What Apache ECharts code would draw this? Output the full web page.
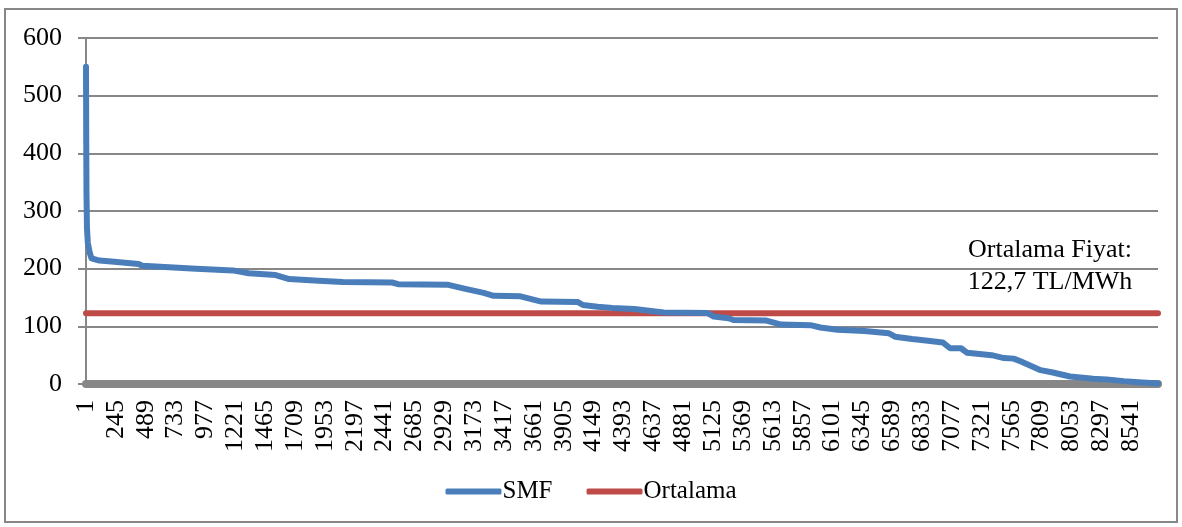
<!DOCTYPE html>
<html>
<head>
<meta charset="utf-8">
<script src="https://cdn.jsdelivr.net/npm/echarts@6/dist/echarts.min.js"></script>
<style>
  html, body { margin: 0; padding: 0; background: #fff; }
  #chart { width: 1182px; height: 527px; }
</style>
</head>
<body>
<div id="chart"></div>
<script>
// saat sayisi (1..8760)
var hourCount = 8760;
// SMF sirali egri: okunan noktalar (saat indeksi, TL/MWh)
var smfHours = [0, 2, 4, 8, 15, 30, 45, 110, 230, 430, 460, 470, 900, 1200, 1330, 1550, 1660, 1900, 2100, 2500, 2550, 2960, 3100, 3250, 3330, 3550, 3720, 4020, 4060, 4180, 4300, 4480, 4720, 5080, 5130, 5250, 5290, 5560, 5680, 5920, 6000, 6140, 6360, 6560, 6610, 6750, 6880, 7000, 7060, 7150, 7200, 7400, 7500, 7580, 7640, 7800, 7900, 8040, 8230, 8340, 8480, 8600, 8759];
var smfValues = [550, 420, 330, 270, 245, 228, 218, 214, 212, 208, 205, 202, 200, 197, 192, 189, 182, 179, 177, 176, 173, 172, 165, 158, 153, 152, 143, 142, 137, 134, 132, 130, 124, 123, 117, 114, 111, 110, 103, 102, 98, 94, 92, 88, 82, 78, 75, 72, 62, 62, 54, 50, 45, 44, 39, 24, 20, 13, 9, 8, 5, 3, 1];
var ortalama = 122.7;
var yTicks = [0, 100, 200, 300, 400, 500, 600];

var categories = [];
for (var i = 1; i <= hourCount; i++) categories.push(String(i));

var smfData = smfHours.map(function (h, i) { return [h, smfValues[i]]; });
var ortData = [[0, ortalama], [hourCount - 1, ortalama]];

var font = "'Liberation Serif', 'Times New Roman', serif";
var myChart = echarts.init(document.getElementById("chart"));

var option = {
  animation: false,
  textStyle: { fontFamily: font },
  grid: { left: 86, right: 24, top: 38, bottom: 143, containLabel: false },
  legend: {
    data: ["SMF", "Ortalama"],
    bottom: 18,
    left: "center",
    itemWidth: 56,
    itemHeight: 6,
    itemGap: 34,
    icon: "roundRect",
    textStyle: { fontSize: 25, color: "#000", fontFamily: font, padding: [0, 0, 0, -4] }
  },
  xAxis: {
    type: "category",
    data: categories,
    boundaryGap: false,
    offset: 4,
    axisLine: { lineStyle: { color: "#878787", width: 8 } },
    axisTick: { show: false },
    axisLabel: {
      interval: 243,
      rotate: 90,
      margin: 12,
      fontSize: 26,
      color: "#000",
      fontFamily: font,
      hideOverlap: false
    },
    splitLine: { show: false }
  },
  yAxis: {
    type: "value",
    min: 0,
    max: 600,
    interval: 100,
    axisLine: { show: true, lineStyle: { color: "#878787", width: 2 } },
    axisTick: { show: true, length: 8, lineStyle: { color: "#878787", width: 2 } },
    axisLabel: {
      margin: 24,
      fontSize: 26,
      color: "#000",
      fontFamily: font,
      formatter: function (v) { return yTicks.indexOf(v) >= 0 ? String(v) : ""; }
    },
    splitLine: { lineStyle: { color: "#878787", width: 2 } }
  },
  series: [
    {
      name: "SMF",
      type: "line",
      data: smfData,
      showSymbol: false,
      color: "#4A7EBB",
      lineStyle: { width: 6, cap: "round", join: "round" },
      z: 3
    },
    {
      name: "Ortalama",
      type: "line",
      data: ortData,
      showSymbol: false,
      color: "#BE4B48",
      lineStyle: { width: 6, cap: "round" },
      z: 2
    }
  ],
  graphic: [
    {
      type: "rect",
      shape: { x: 5, y: 9, width: 1172, height: 513 },
      style: { fill: "none", stroke: "#878787", lineWidth: 2 },
      silent: true
    },
    {
      type: "text",
      x: 1050,
      y: 250,
      style: {
        text: "Ortalama Fiyat:",
        font: "26px " + font,
        fill: "#000",
        align: "center",
        verticalAlign: "middle"
      }
    },
    {
      type: "text",
      x: 1050,
      y: 282,
      style: {
        text: "122,7 TL/MWh",
        font: "26px " + font,
        fill: "#000",
        align: "center",
        verticalAlign: "middle"
      }
    }
  ]
};
myChart.setOption(option);
</script>
</body>
</html>
